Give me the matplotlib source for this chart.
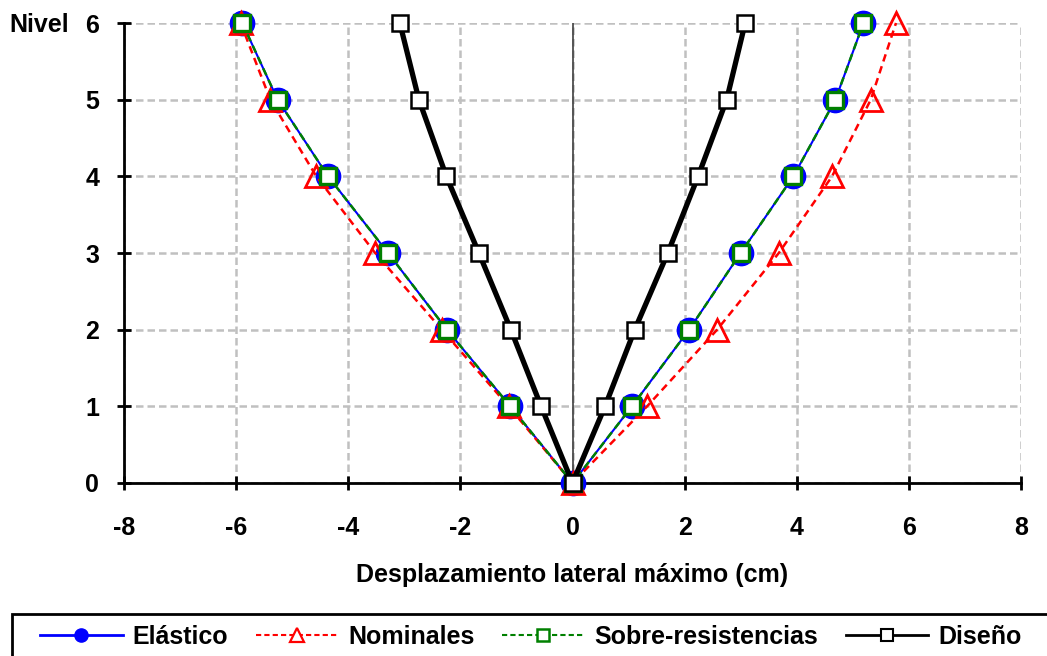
import matplotlib.pyplot as plt
from matplotlib.lines import Line2D
from matplotlib.patches import Rectangle

plt.rcParams['font.family'] = ['Liberation Sans', 'DejaVu Sans']
plt.rcParams['font.weight'] = 'bold'
plt.rcParams['axes.unicode_minus'] = False

# niveles (de arriba a la izquierda, pasando por 0, hasta arriba a la derecha)
niveles = [6, 5, 4, 3, 2, 1, 0, 1, 2, 3, 4, 5, 6]

elastico = [-5.89, -5.26, -4.36, -3.29, -2.24, -1.11, 0.0,
            1.06, 2.08, 3.00, 3.94, 4.69, 5.19]
nominales = [-5.92, -5.39, -4.57, -3.52, -2.33, -1.14, 0.0,
             1.33, 2.58, 3.68, 4.63, 5.32, 5.77]
sobre_res = [-5.89, -5.26, -4.36, -3.29, -2.24, -1.11, 0.0,
             1.06, 2.08, 3.00, 3.94, 4.69, 5.19]
diseno = [-3.08, -2.74, -2.25, -1.67, -1.10, -0.56, 0.0,
          0.58, 1.11, 1.70, 2.24, 2.75, 3.08]

FS = 18

fig = plt.figure(figsize=(10.47, 6.56), dpi=100)
ax = fig.add_axes([124/1047, 1-483/656, (1021-124)/1047, (483-23)/656])

ax.plot(elastico, niveles, color='blue', lw=1.5, marker='o', ms=17.5,
        mfc='blue', mec='blue', zorder=3, clip_on=False)
ax.plot(nominales, niveles, color='red', lw=1.8, ls=(0, (3, 2)), marker='^',
        ms=16, mfc='none', mec='red', mew=2.0, zorder=4, clip_on=False)
ax.plot(sobre_res, niveles, color='green', lw=1.8, ls=(0, (3, 2)), marker='s',
        ms=11.5, mfc='white', mec='green', mew=2.4, zorder=5, clip_on=False)
ax.plot(diseno, niveles, color='black', lw=3.8, marker='s',
        ms=12, mfc='white', mec='black', mew=1.8, zorder=6, clip_on=False)

ax.axvline(0, color='#404040', lw=1.2, zorder=2)

ax.set_xlim(-8, 8)
ax.set_ylim(0, 6)
ax.set_xticks(range(-8, 9, 2))
ax.set_yticks(range(0, 7))
ax.grid(True, color='#c0c0c0', ls=(0, (3, 1.6)), lw=1.8, zorder=1)
ax.set_axisbelow(True)

for s in ['top', 'right']:
    ax.spines[s].set_visible(False)
for s in ['left', 'bottom']:
    ax.spines[s].set_linewidth(2.0)
    ax.spines[s].set_zorder(2.5)

ax.tick_params(direction='inout', length=10, width=2.0, labelsize=FS)
ax.tick_params(axis='x', pad=19)
ax.tick_params(axis='y', pad=13)
for lab in ax.get_xticklabels() + ax.get_yticklabels():
    lab.set_fontweight('bold')

ax.set_xlabel('Desplazamiento lateral máximo (cm)', fontsize=FS,
              fontweight='bold')
ax.xaxis.label.set_va('center')
ax.xaxis.set_label_coords(0.5, (483-575)/460)
fig.text(9/1047, 1-25/656, 'Nivel', fontsize=FS, fontweight='bold',
         ha='left', va='center')

# caja de la leyenda (cortada en el borde de la figura)
fig.patches.append(Rectangle((12/1047, -0.1), 1.2, (656-614)/656 + 0.1,
                             transform=fig.transFigure, fill=False,
                             lw=2.0, edgecolor='black'))

handles = [
    Line2D([], [], color='blue', lw=2.0, marker='o', ms=9.5, mfc='blue', mec='blue'),
    Line2D([], [], color='red', lw=1.5, ls=(0, (2.5, 1.5)), marker='^', ms=10,
           mfc='white', mec='red', mew=1.6),
    Line2D([], [], color='green', lw=1.5, ls=(0, (2.5, 1.5)), marker='s', ms=8,
           mfc='white', mec='green', mew=1.8),
    Line2D([], [], color='black', lw=2.0, marker='s', ms=8,
           mfc='white', mec='black', mew=1.5),
]
labels = ['Elástico', 'Nominales', 'Sobre-resistencias', 'Diseño']
fig.legend(handles, labels, loc='center', bbox_to_anchor=(531/1047, 1-637/656),
           ncol=4, frameon=False, handlelength=3.3, columnspacing=1.1,
           handletextpad=0.4, prop={'size': FS, 'weight': 'bold'})

fig.savefig('out.png', dpi=100)
